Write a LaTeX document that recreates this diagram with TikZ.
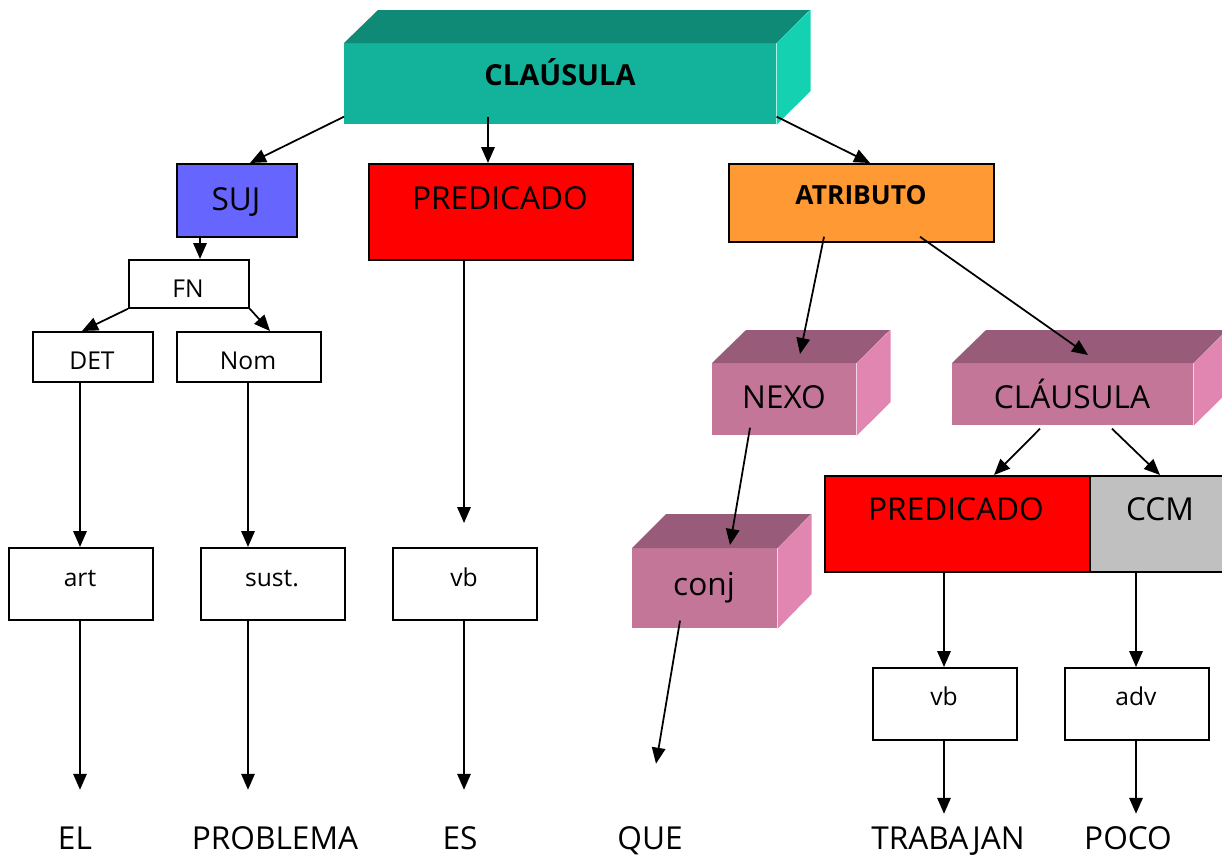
\documentclass[tikz,border=0pt]{standalone}
\usepackage{fontspec}
\setmainfont{Open Sans}
\usetikzlibrary{arrows.meta,calc}
\definecolor{tealF}{HTML}{12B39A}
\definecolor{tealT}{HTML}{0E8A76}
\definecolor{tealS}{HTML}{14D2B1}
\definecolor{pinkF}{HTML}{C47699}
\definecolor{pinkT}{HTML}{985C7A}
\definecolor{pinkS}{HTML}{E086B0}
\definecolor{sujC}{HTML}{6666FF}
\definecolor{atrC}{HTML}{FF9933}
\definecolor{ccmC}{HTML}{C0C0C0}
\begin{document}
\begin{tikzpicture}[x=0.02cm,y=-0.02cm,
  flat/.style={draw=black,line width=1pt,anchor=north west,inner sep=0pt,fill=white},
  solid3d/.style={anchor=north west,inner sep=0pt},
  big/.style={font=\fontsize{18}{20}\selectfont,inner sep=0pt,text height=12.9pt,text depth=0pt},
  small/.style={font=\fontsize{14}{16}\selectfont,inner sep=0pt,text height=10pt,text depth=0pt},
  conn/.style={line width=1pt,-{Triangle[length=0.32cm,width=0.27cm]}},
]
\useasboundingbox (0,0) rectangle (1222,856);

% ---- 3D boxes ----
\node[solid3d,fill=tealF,minimum width=8.64cm,minimum height=1.62cm] (clau) at (344,43) {};
\fill[tealT] (clau.north west) -- ++(34,-33) -- ++(432,0) -- (clau.north east) -- cycle;
\fill[tealS] (clau.north east) -- ++(34,-33) -- ++(0,81) -- (clau.south east) -- cycle;
\node[font=\fontsize{16.5}{18}\selectfont\bfseries,inner sep=0pt,text height=11.8pt,text depth=0pt] (clauT) at (560,75) {CLAÚSULA};

\node[solid3d,fill=pinkF,minimum width=2.88cm,minimum height=1.44cm] (nexo) at (712,363) {};
\fill[pinkT] (nexo.north west) -- ++(34,-33) -- ++(144,0) -- (nexo.north east) -- cycle;
\fill[pinkS] (nexo.north east) -- ++(34,-33) -- ++(0,72) -- (nexo.south east) -- cycle;
\node[big] (nexoT) at (784,397) {NEXO};

\node[solid3d,fill=pinkF,minimum width=4.82cm,minimum height=1.24cm] (cl2) at (952,363) {};
\fill[pinkT] (cl2.north west) -- ++(34,-33) -- ++(241,0) -- (cl2.north east) -- cycle;
\fill[pinkS] (cl2.north east) -- ++(34,-33) -- ++(0,62) -- (cl2.south east) -- cycle;
\node[big] (cl2T) at (1072,397) {CLÁUSULA};

\node[solid3d,fill=pinkF,minimum width=2.9cm,minimum height=1.6cm] (conj) at (632,548) {};
\fill[pinkT] (conj.north west) -- ++(34,-34) -- ++(145,0) -- (conj.north east) -- cycle;
\fill[pinkS] (conj.north east) -- ++(34,-34) -- ++(0,80) -- (conj.south east) -- cycle;
\node[big] (conjT) at (704,584) {conj};

% ---- flat boxes ----
\node[flat,fill=sujC,minimum width=2.4cm,minimum height=1.46cm] (suj) at (176,163) {};
\node[big] (sujT) at (236,199) {SUJ};
\node[flat,fill=red,minimum width=5.28cm,minimum height=1.92cm] (pred) at (368,163) {};
\node[big] (predT) at (500,198) {PREDICADO};
\node[flat,fill=atrC,minimum width=5.3cm,minimum height=1.56cm] (atr) at (728,163) {};
\node[font=\fontsize{15}{17}\selectfont\bfseries,inner sep=0pt,text height=10.7pt,text depth=0pt] (atrT) at (861,195) {ATRIBUTO};

\node[flat,minimum width=2.4cm,minimum height=0.96cm] (fn) at (128,259) {};
\node[small] (fnT) at (188,289) {FN};
\node[flat,minimum width=2.4cm,minimum height=1.0cm] (det) at (32,331) {};
\node[small] (detT) at (92,361) {DET};
\node[flat,minimum width=2.88cm,minimum height=1.0cm] (nom) at (176,331) {};
\node[small] (nomT) at (248,361) {Nom};

\node[flat,minimum width=2.88cm,minimum height=1.44cm] (art) at (8,547) {};
\node[small] (artT) at (80,578) {art};
\node[flat,minimum width=2.88cm,minimum height=1.44cm] (sust) at (200,547) {};
\node[small] (sustT) at (272,578) {sust.};
\node[flat,minimum width=2.88cm,minimum height=1.44cm] (vb) at (392,547) {};
\node[small] (vbT) at (464,578) {vb};

\node[flat,fill=red,minimum width=5.3cm,minimum height=1.92cm] (pred2) at (824,475) {};
\node[big] (pred2T) at (956,509) {PREDICADO};
\node[flat,fill=ccmC,minimum width=2.66cm,minimum height=1.92cm] (ccm) at (1089,475) {};
\node[big] (ccmT) at (1160,509) {CCM};

\node[flat,minimum width=2.88cm,minimum height=1.44cm] (vb2) at (872,667) {};
\node[small] (vb2T) at (944,697) {vb};
\node[flat,minimum width=2.88cm,minimum height=1.44cm] (adv) at (1064,667) {};
\node[small] (advT) at (1136,697) {adv};

% ---- words ----
\node[big] (w1) at (75,838) {EL};
\node[big] (w2) at (275,838) {PROBLEMA};
\node[big] (w3) at (460,838) {ES};
\node[big] (w4) at (650,838) {QUE};
\node[big] (w5) at (948,838) {TRABAJAN};
\node[big] (w6) at (1128,838) {POCO};

% ---- connectors ----
\draw[conn] ($(clau.south west)+(0,-8)$) -- ($(suj.north west)+(74,0)$);
\draw[conn] ($(clau.south west)+(144,-8)$) -- ($(pred.north west)+(120,0)$);
\draw[conn] ($(clau.south east)+(0,-8)$) -- ($(atr.north west)+(142,0)$);
\draw[conn] ($(suj.south west)+(24,0)$) -- ($(fn.north west)+(72,0)$);
\draw[conn] (fn.south west) -- ($(det.north west)+(50,0)$);
\draw[conn] (fn.south east) -- ($(nom.north west)+(94,0)$);
\draw[conn] ($(det.south west)+(48,0)$) -- ($(art.north west)+(72,0)$);
\draw[conn] ($(nom.south west)+(72,0)$) -- ($(sust.north west)+(48,0)$);
\draw[conn] ($(pred.south west)+(96,0)$) -- ($(vb.north west)+(72,-24)$);
\draw[conn] ($(art.south west)+(72,0)$) -- ($(art.south west)+(72,169)$);
\draw[conn] ($(sust.south west)+(48,0)$) -- ($(sust.south west)+(48,169)$);
\draw[conn] ($(vb.south west)+(72,0)$) -- ($(vb.south west)+(72,169)$);
\draw[conn] ($(atr.south west)+(96,-6)$) -- ($(nexo.north west)+(88,-9)$);
\draw[conn] ($(atr.south west)+(192,-6)$) -- ($(cl2.north west)+(136,-8)$);
\draw[conn] ($(nexo.south west)+(38,-8)$) -- ($(conj.north west)+(98,-3)$);
\draw[conn] ($(conj.south west)+(48,-8)$) -- ($(conj.south west)+(24,135)$);
\draw[conn] ($(cl2.south west)+(88,3)$) -- ($(pred2.north west)+(170,0)$);
\draw[conn] ($(cl2.south west)+(160,3)$) -- ($(ccm.north west)+(71,0)$);
\draw[conn] ($(pred2.south west)+(120,0)$) -- ($(vb2.north west)+(72,0)$);
\draw[conn] ($(ccm.south west)+(47,0)$) -- ($(adv.north west)+(72,0)$);
\draw[conn] ($(vb2.south west)+(72,0)$) -- ($(vb2.south west)+(72,73)$);
\draw[conn] ($(adv.south west)+(72,0)$) -- ($(adv.south west)+(72,73)$);
\end{tikzpicture}
\end{document}
